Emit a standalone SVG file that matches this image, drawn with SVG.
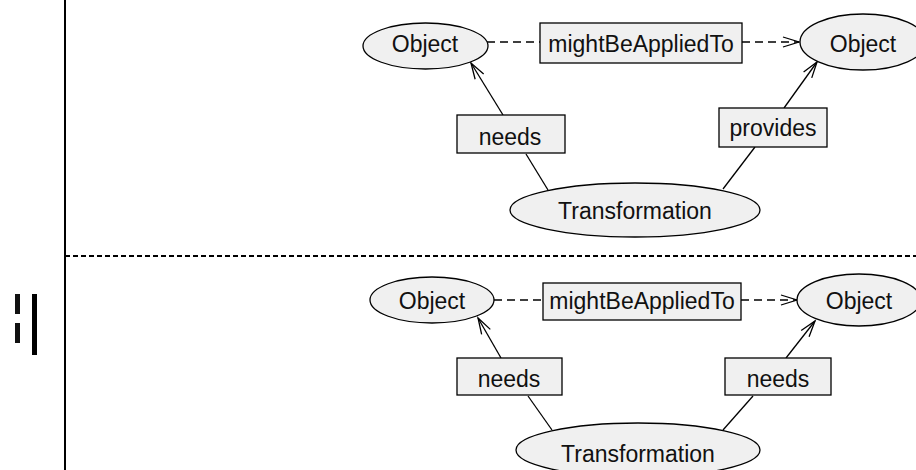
<svg xmlns="http://www.w3.org/2000/svg" width="916" height="470" viewBox="0 0 916 470">
<style>
.n{fill:#f0f0f0;stroke:#000;stroke-width:1.3}
.t{font-family:"Liberation Sans",Arial,sans-serif;font-size:23px;fill:#111;text-anchor:middle}
.c{stroke:#000;stroke-width:1.3;fill:none}
.d{stroke-dasharray:8,5}
</style>
<defs>
<marker id="arr" markerUnits="userSpaceOnUse" viewBox="0 0 18 12" refX="16" refY="6" markerWidth="18" markerHeight="12" orient="auto" overflow="visible">
<path d="M0,1 L16,6 L0,11" fill="none" stroke="#000" stroke-width="1.3"/>
</marker>
</defs>
<rect width="916" height="470" fill="#fff"/>
<g id="frame">
<rect x="15" y="294" width="5" height="20" fill="#111"/>
<rect x="15" y="323" width="5" height="20" fill="#111"/>
<rect x="32" y="294" width="5" height="61" fill="#000"/>
<line x1="65" y1="0" x2="65" y2="470" stroke="#000" stroke-width="2"/>
<line x1="65" y1="256" x2="916" y2="256" stroke="#000" stroke-width="2" stroke-dasharray="5,3"/>
</g>
<g id="connectors">
<line class="c d" x1="487" y1="42" x2="540" y2="42"/>
<line class="c d" x1="742" y1="42" x2="799" y2="42" marker-end="url(#arr)"/>
<line class="c" x1="503" y1="115" x2="471" y2="63" marker-end="url(#arr)"/>
<line class="c" x1="526" y1="154" x2="548" y2="190"/>
<line class="c" x1="784" y1="108" x2="817" y2="62" marker-end="url(#arr)"/>
<line class="c" x1="755" y1="147" x2="723" y2="189"/>
<line class="c d" x1="494" y1="300" x2="543" y2="300"/>
<line class="c d" x1="741" y1="300" x2="797" y2="300" marker-end="url(#arr)"/>
<line class="c" x1="501" y1="358" x2="478" y2="318" marker-end="url(#arr)"/>
<line class="c" x1="528" y1="396" x2="552" y2="430"/>
<line class="c" x1="786" y1="358" x2="815" y2="321" marker-end="url(#arr)"/>
<line class="c" x1="753" y1="396" x2="723" y2="430"/>
</g>
<g id="obj1"><ellipse class="n" cx="425.5" cy="46" rx="62.5" ry="23"/><text class="t" x="425" y="52">Object</text></g>
<g id="rel1"><rect class="n" x="540" y="23" width="202" height="40"/><text class="t" x="641" y="51.5">mightBeAppliedTo</text></g>
<g id="obj2"><ellipse class="n" cx="863" cy="42" rx="63" ry="28"/><text class="t" x="863" y="52">Object</text></g>
<g id="needs1"><rect class="n" x="457" y="115" width="108" height="38"/><text class="t" x="510" y="145">needs</text></g>
<g id="provides1"><rect class="n" x="719" y="108" width="108" height="39"/><text class="t" x="773" y="136">provides</text></g>
<g id="trans1"><ellipse class="n" cx="635" cy="210" rx="125" ry="27"/><text class="t" x="635" y="219">Transformation</text></g>
<g id="obj3"><ellipse class="n" cx="432" cy="300" rx="62" ry="23"/><text class="t" x="432" y="308.5">Object</text></g>
<g id="rel2"><rect class="n" x="543" y="283" width="198" height="37"/><text class="t" x="642" y="309">mightBeAppliedTo</text></g>
<g id="obj4"><ellipse class="n" cx="859" cy="300" rx="62" ry="26"/><text class="t" x="859" y="309">Object</text></g>
<g id="needs2"><rect class="n" x="457" y="358" width="105" height="37"/><text class="t" x="509" y="387">needs</text></g>
<g id="needs3"><rect class="n" x="725" y="358" width="106" height="37"/><text class="t" x="778" y="387">needs</text></g>
<g id="trans2"><ellipse class="n" cx="638" cy="450" rx="122" ry="27"/><text class="t" x="638" y="462">Transformation</text></g>
</svg>
